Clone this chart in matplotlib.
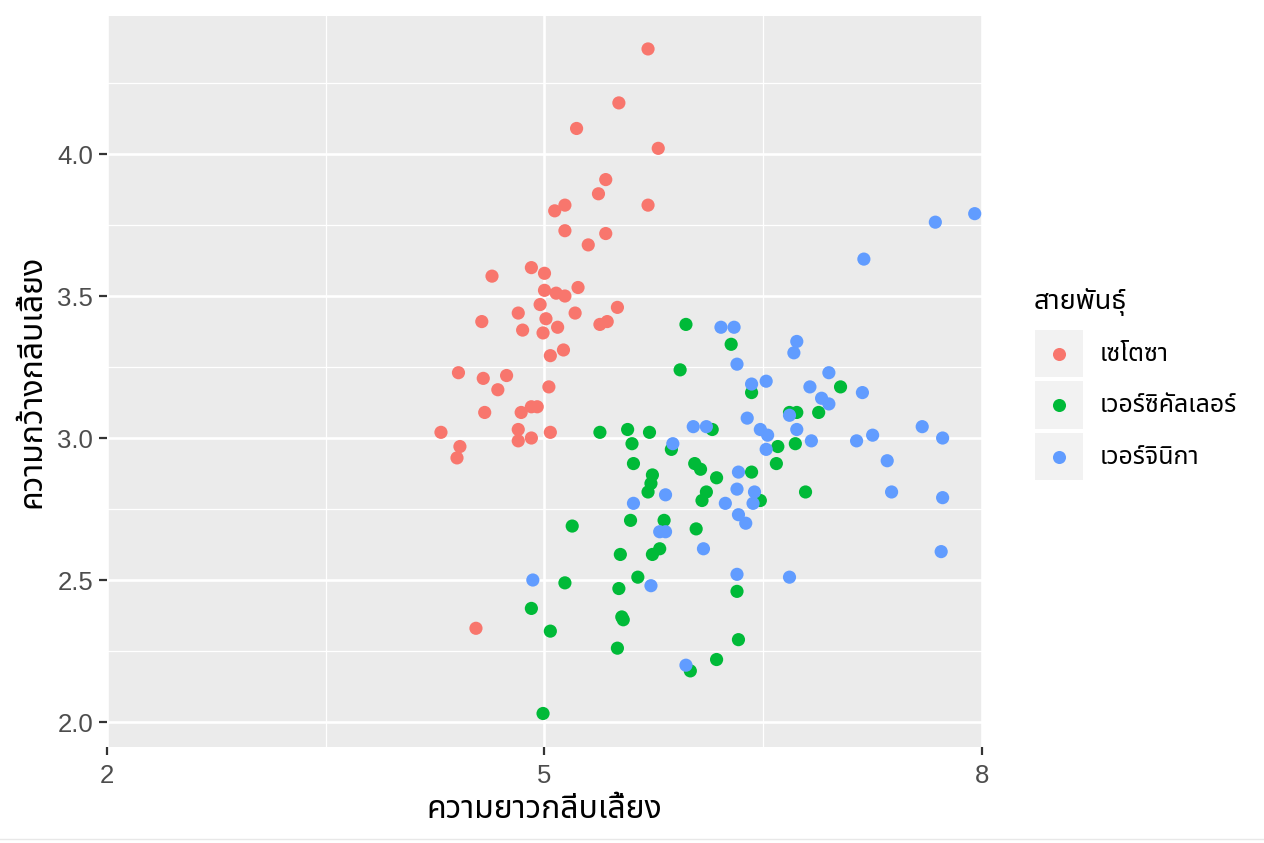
import matplotlib
matplotlib.use("Agg")
import matplotlib.pyplot as plt
from matplotlib import font_manager
from matplotlib.ft2font import FT2Font
from matplotlib.patches import Rectangle
from matplotlib.lines import Line2D

# ---------------- data ----------------
species = ["เซโตซา", "เวอร์ซิคัลเลอร์", "เวอร์จินิกา"]
colors = ["#F8766D", "#00BA38", "#619CFF"]

setosa_x = [5.71, 5.51, 5.22, 5.78, 5.42, 5.37, 5.14, 5.07, 5.71, 5.14, 5.42, 5.30,
            4.64, 4.91, 5.00, 5.00, 5.08, 5.14, 5.23, 4.97, 5.50, 4.82, 5.21, 4.57, 5.01, 5.38,
            5.43, 4.85, 5.09, 4.99, 5.13, 5.04, 4.41, 4.58, 4.74, 4.68, 5.03, 4.91, 4.95, 4.59,
            4.84, 4.29, 4.82, 4.82, 4.91, 5.04, 4.42, 4.40, 4.53]
setosa_y = [4.37, 4.18, 4.09, 4.02, 3.91, 3.86, 3.82, 3.80, 3.82, 3.73, 3.72, 3.68,
            3.57, 3.60, 3.58, 3.52, 3.51, 3.50, 3.53, 3.47, 3.46, 3.44, 3.44, 3.41, 3.42, 3.40,
            3.41, 3.38, 3.39, 3.37, 3.31, 3.29, 3.23, 3.21, 3.22, 3.17, 3.18, 3.11, 3.11, 3.09,
            3.09, 3.02, 3.03, 2.99, 3.00, 3.02, 2.97, 2.93, 2.33]

versicolor_x = [5.38, 5.57, 5.60, 4.91, 5.04, 4.99, 5.14, 5.19, 5.61, 5.74,
                5.73, 5.71, 5.59, 5.82, 5.52, 5.74, 5.79, 5.64, 5.51, 5.53,
                5.54, 5.50, 5.97, 6.28, 5.93, 6.42, 6.15, 5.72, 5.87, 6.03,
                6.07, 6.18, 6.42, 6.11, 6.08, 7.03, 6.88, 6.68, 6.73, 6.72,
                6.60, 6.59, 6.79, 6.48, 6.04, 6.32, 6.33, 6.18, 6.00]
versicolor_y = [3.02, 3.03, 2.98, 2.40, 2.32, 2.03, 2.49, 2.69, 2.91, 2.87,
                2.84, 2.81, 2.71, 2.71, 2.59, 2.59, 2.61, 2.51, 2.47, 2.37,
                2.36, 2.26, 3.40, 3.33, 3.24, 3.16, 3.03, 3.02, 2.96, 2.91,
                2.89, 2.86, 2.88, 2.81, 2.78, 3.18, 3.09, 3.09, 3.09, 2.98,
                2.97, 2.91, 2.81, 2.78, 2.68, 2.46, 2.29, 2.22, 2.18]

virginica_x = [4.92, 5.61, 5.83, 5.79, 5.83, 5.73, 6.21, 6.30, 6.32, 6.42,
               6.39, 6.02, 6.11, 5.88, 6.33, 6.32, 6.44, 6.24, 6.43, 6.33,
               6.73, 6.71, 6.95, 6.52, 6.82, 7.18, 6.90, 6.95, 6.68, 6.48,
               6.53, 6.73, 6.83, 6.52, 7.14, 7.95, 7.68, 7.19, 7.59, 7.25,
               7.73, 7.35, 7.38, 7.73, 7.72, 6.38, 6.09, 6.32, 6.68, 5.97]
virginica_y = [2.50, 2.77, 2.80, 2.67, 2.67, 2.48, 3.39, 3.39, 3.26, 3.19,
               3.07, 3.04, 3.04, 2.98, 2.88, 2.82, 2.81, 2.77, 2.77, 2.73,
               3.34, 3.30, 3.23, 3.20, 3.18, 3.16, 3.14, 3.12, 3.08, 3.03,
               3.01, 3.03, 2.99, 2.96, 2.99, 3.79, 3.76, 3.63, 3.04, 3.01,
               3.00, 2.92, 2.81, 2.79, 2.60, 2.70, 2.61, 2.52, 2.51, 2.20]

x_ticks = [2, 5, 8]
x_minor = [3.5, 6.5]
y_ticks = [2.0, 2.5, 3.0, 3.5, 4.0]
y_minor = [2.25, 2.75, 3.25, 3.75, 4.25]
x_title = "ความยาวกลีบเลี้ยง"
y_title = "ความกว้างกลีบเลี้ยง"
legend_title = "สายพันธุ์"

# ---------------- fonts ----------------
prefs = ["Noto Sans Thai", "Noto Sans Thai UI", "Noto Sans Thai Looped", "Sarabun",
         "IBM Plex Sans Thai", "Loma"]
cands = set()
for f in font_manager.fontManager.ttflist:
    try:
        ft = FT2Font(f.fname)
        if 0x0E01 in ft.get_charmap():
            cands.add(f.name)
    except Exception:
        pass
thai = None
for p in prefs:
    if p in cands:
        thai = p
        break
if thai is None and cands:
    thai = sorted(cands)[0]
fam = ["Liberation Sans"] + ([thai] if thai else []) + ["DejaVu Sans"]
plt.rcParams["font.family"] = fam

# ---------------- figure ----------------
W, H = 1264, 843
fig = plt.figure(figsize=(W / 100, H / 100), dpi=100)
fig.patch.set_facecolor("white")
L, R, T, B = 107, 982, 16, 747
ax = fig.add_axes([L / W, 1 - B / H, (R - L) / W, (B - T) / H])
ax.set_facecolor("#EBEBEB")
ax.set_xlim(2, 8)
ax.set_ylim(1.912, 4.486)

for v in x_minor:
    ax.axvline(v, color="white", lw=0.9, zorder=0.5)
for v in y_minor:
    ax.axhline(v, color="white", lw=0.9, zorder=0.5)
for v in x_ticks:
    ax.axvline(v, color="white", lw=1.9, zorder=0.6)
for v in y_ticks:
    ax.axhline(v, color="white", lw=1.9, zorder=0.6)

series = [(setosa_x, setosa_y), (versicolor_x, versicolor_y), (virginica_x, virginica_y)]
for (xs, ys), c in zip(series, colors):
    ax.scatter(xs, ys, s=90, color=c, edgecolors="none", zorder=3)

for s in ax.spines.values():
    s.set_visible(False)
ax.set_xticks(x_ticks)
ax.set_xticklabels([str(v) for v in x_ticks])
ax.set_yticks(y_ticks)
ax.set_yticklabels([f"{v:.1f}" for v in y_ticks])
ax.tick_params(axis="both", which="major", length=6, width=1.6, color="#333333",
               labelcolor="#4D4D4D", labelsize=18.5)
ax.tick_params(axis="y", pad=4.0)
ax.tick_params(axis="x", pad=6.0)

ax.set_xlabel(x_title, fontsize=23, color="black", labelpad=5)
ax.set_ylabel(y_title, fontsize=23, color="black", labelpad=7)

# ---------------- legend (manual, ggplot style) ----------------
def fx(px):
    return px / W

def fy(py):
    return 1 - py / H

fig.text(fx(1034), fy(302), legend_title, fontsize=19.5, color="black",
         ha="left", va="center")
key_tops = [330, 381.5, 433]
for top, c, lab in zip(key_tops, colors, species):
    fig.patches.append(Rectangle((fx(1035), fy(top + 47)), 48 / W, 47 / H,
                                 transform=fig.transFigure, facecolor="#F2F2F2",
                                 edgecolor="none"))
    fig.lines.append(Line2D([fx(1059)], [fy(top + 23.5)], marker="o", markersize=9.4,
                            color=c, markeredgewidth=0, linestyle="none",
                            transform=fig.transFigure))
    fig.text(fx(1100), fy(top + 23.5), lab, fontsize=18, color="black",
             ha="left", va="center")

fig.lines.append(Line2D([0, 1], [fy(839), fy(839)], color="#E8E8E8", lw=1,
                        transform=fig.transFigure))

fig.savefig("out.png", dpi=100)
